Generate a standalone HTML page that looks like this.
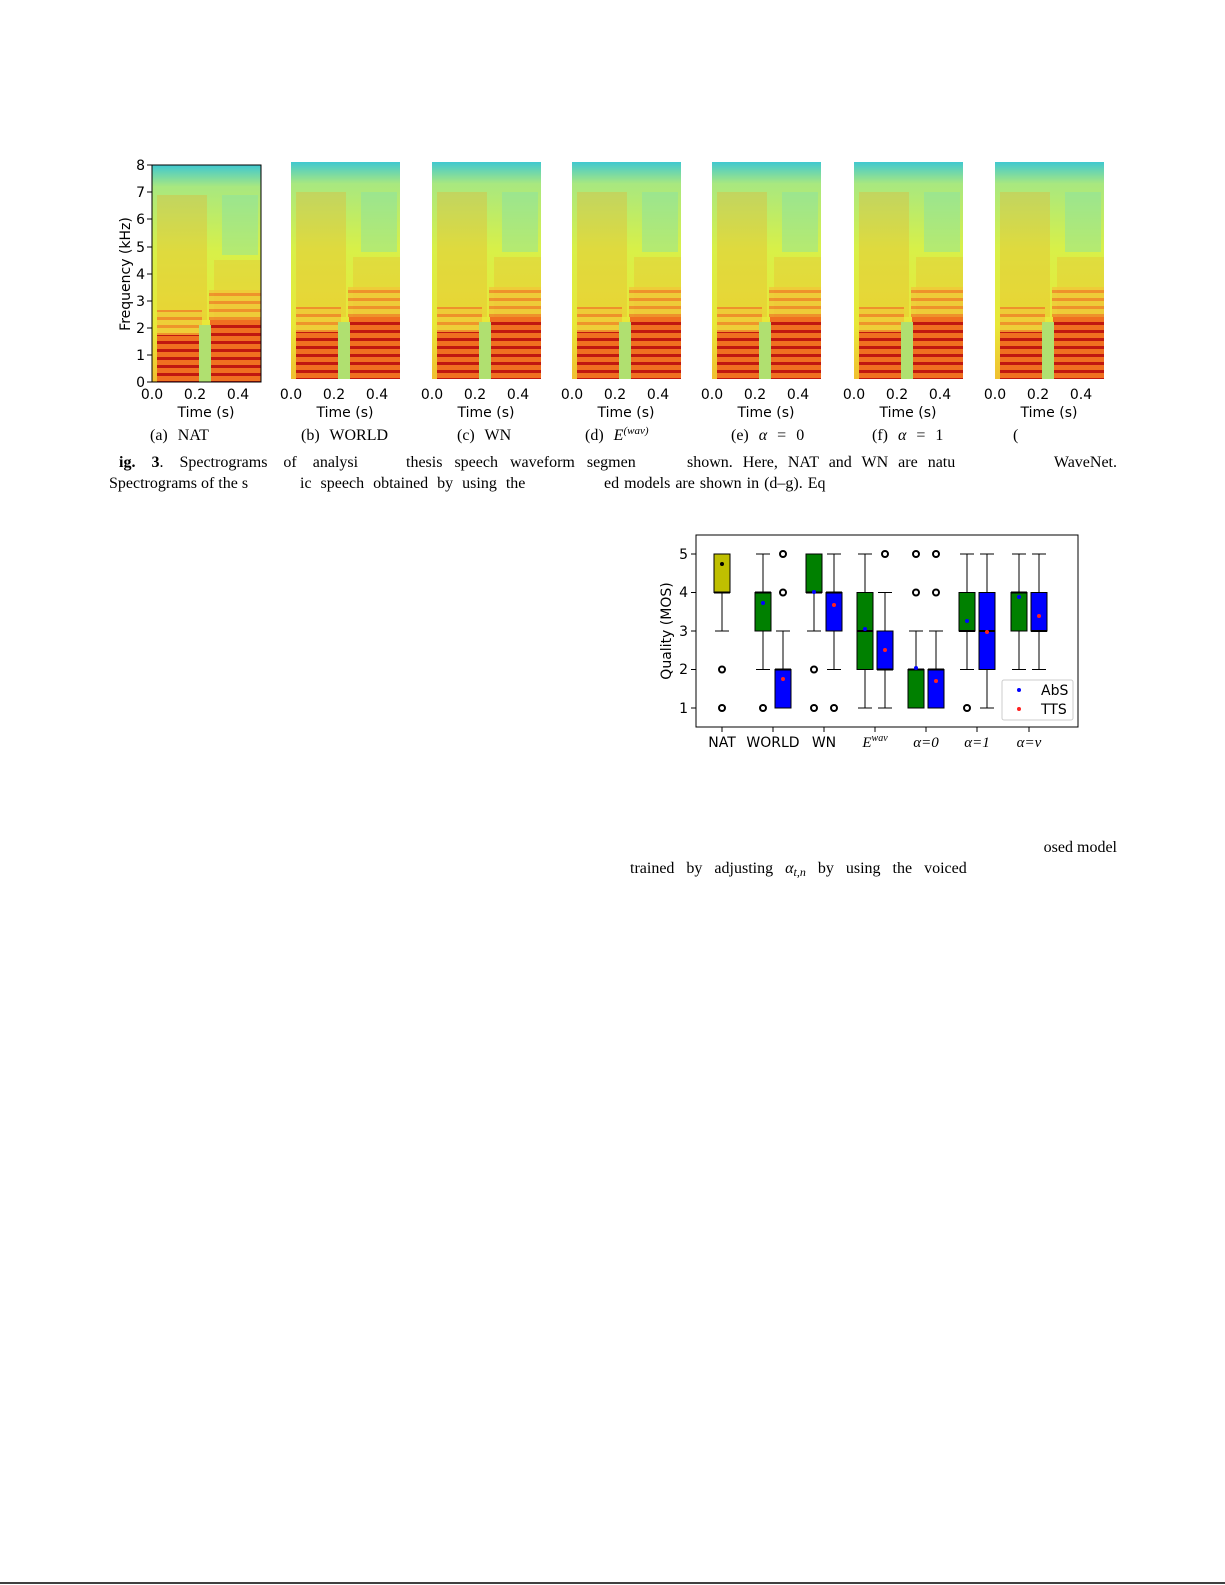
<!DOCTYPE html>
<html><head><meta charset="utf-8"><style>
html,body{margin:0;padding:0;background:#fff;}
svg{display:block;}
.t{font-family:"DejaVu Sans",sans-serif;font-size:14px;fill:#000;}
.s{font-family:"Liberation Serif",serif;font-size:16px;fill:#000;}
.m{font-family:"Liberation Serif",serif;font-style:italic;font-size:15px;fill:#000;}
</style></head><body>
<svg width="1225" height="1585" viewBox="0 0 1225 1585" xmlns="http://www.w3.org/2000/svg">
<defs>
<linearGradient id="bg" x1="0" y1="0" x2="0" y2="1">
<stop offset="0" stop-color="#40c8d0"/><stop offset="0.1" stop-color="#a8e880"/>
<stop offset="0.4" stop-color="#d8f048"/><stop offset="0.75" stop-color="#e8e838"/><stop offset="1" stop-color="#f0c030"/>
</linearGradient>
<pattern id="harm" width="8" height="8" patternUnits="userSpaceOnUse">
<rect width="8" height="8" fill="#f07020"/><rect y="0" width="8" height="3" fill="#c01810"/>
</pattern>
<pattern id="harm2" width="8" height="8" patternUnits="userSpaceOnUse">
<rect width="8" height="8" fill="#f0c838"/><rect y="0" width="8" height="3" fill="#f08028"/>
</pattern>
<g id="spec">
<rect width="109" height="217" fill="url(#bg)"/>
<rect x="5" y="30" width="50" height="125" fill="#f0a828" opacity="0.3"/>
<rect x="62" y="95" width="47" height="60" fill="#f0a828" opacity="0.25"/>
<rect x="70" y="30" width="36" height="60" fill="#80e0b0" opacity="0.4"/>
<rect x="5" y="145" width="45" height="25" fill="url(#harm2)" opacity="0.8"/>
<rect x="57" y="125" width="52" height="30" fill="url(#harm2)" opacity="0.8"/>
<rect x="5" y="170" width="43" height="47" fill="url(#harm)"/>
<rect x="58" y="155" width="51" height="62" fill="url(#harm)"/>
<rect x="47" y="160" width="12" height="57" fill="#b0e070"/>
</g>
</defs>
<use href="#spec" x="152" y="165"/>
<use href="#spec" x="291" y="162"/>
<use href="#spec" x="432" y="162"/>
<use href="#spec" x="572" y="162"/>
<use href="#spec" x="712" y="162"/>
<use href="#spec" x="854" y="162"/>
<use href="#spec" x="995" y="162"/>
<rect x="152" y="165" width="109" height="217" fill="none" stroke="#000" stroke-width="1"/>
<g stroke="#000">
<line x1="147" y1="382" x2="152" y2="382"/><line x1="147" y1="355" x2="152" y2="355"/><line x1="147" y1="328" x2="152" y2="328"/><line x1="147" y1="301" x2="152" y2="301"/><line x1="147" y1="274" x2="152" y2="274"/><line x1="147" y1="247" x2="152" y2="247"/><line x1="147" y1="219" x2="152" y2="219"/><line x1="147" y1="192" x2="152" y2="192"/><line x1="147" y1="165" x2="152" y2="165"/>
</g>
<g class="t" text-anchor="end">
<text x="145" y="387">0</text><text x="145" y="360">1</text><text x="145" y="333">2</text><text x="145" y="306">3</text><text x="145" y="279">4</text><text x="145" y="252">5</text><text x="145" y="224">6</text><text x="145" y="197">7</text><text x="145" y="170">8</text>
</g>
<text class="t" transform="translate(130,274) rotate(-90)" text-anchor="middle">Frequency (kHz)</text>
<g class="t" text-anchor="middle">
<text x="152" y="399">0.0</text><text x="195" y="399">0.2</text><text x="238" y="399">0.4</text><text x="206" y="417">Time (s)</text>
<text x="291" y="399">0.0</text><text x="334" y="399">0.2</text><text x="377" y="399">0.4</text><text x="345" y="417">Time (s)</text>
<text x="432" y="399">0.0</text><text x="475" y="399">0.2</text><text x="518" y="399">0.4</text><text x="486" y="417">Time (s)</text>
<text x="572" y="399">0.0</text><text x="615" y="399">0.2</text><text x="658" y="399">0.4</text><text x="626" y="417">Time (s)</text>
<text x="712" y="399">0.0</text><text x="755" y="399">0.2</text><text x="798" y="399">0.4</text><text x="766" y="417">Time (s)</text>
<text x="854" y="399">0.0</text><text x="897" y="399">0.2</text><text x="940" y="399">0.4</text><text x="908" y="417">Time (s)</text>
<text x="995" y="399">0.0</text><text x="1038" y="399">0.2</text><text x="1081" y="399">0.4</text><text x="1049" y="417">Time (s)</text>
</g>
<g class="s" font-size="15.5" word-spacing="6">
<text x="150" y="440">(a) NAT</text>
<text x="301" y="440">(b) WORLD</text>
<text x="457" y="440">(c) WN</text>
<text x="585" y="440">(d) <tspan font-style="italic">E</tspan><tspan font-style="italic" font-size="11" dy="-6">(wav)</tspan></text>
<text x="731" y="440">(e) <tspan font-style="italic">α</tspan> = 0</text>
<text x="872" y="440">(f) <tspan font-style="italic">α</tspan> = 1</text>
<text x="1013" y="440">(</text>
</g>
<g class="s" font-size="17">
<text x="119" y="467" word-spacing="12"><tspan font-weight="bold">ig. 3</tspan>. Spectrograms of analysi</text>
<text x="406" y="467" word-spacing="8">thesis speech waveform segmen</text>
<text x="687" y="467" word-spacing="6">shown. Here, NAT and WN are natu</text>
<text x="1117" y="467" text-anchor="end">WaveNet.</text>
<text x="109" y="488">Spectrograms of the s</text>
<text x="300" y="488" word-spacing="5">ic speech obtained by using the</text>
<text x="604" y="488" word-spacing="1">ed models are shown in (d–g). Eq</text>
<text x="1117" y="852" text-anchor="end">osed model</text>
<text x="630" y="873" word-spacing="8">trained by adjusting <tspan font-style="italic">α</tspan><tspan font-style="italic" font-size="12" dy="3">t,n</tspan><tspan dy="-3"> by using the voiced</tspan></text>
</g>
<!-- boxplot -->
<rect x="696" y="535" width="382" height="192" fill="#fff" stroke="#000"/>
<g stroke="#000"><line x1="691" y1="554" x2="696" y2="554"/><line x1="691" y1="592.5" x2="696" y2="592.5"/><line x1="691" y1="631" x2="696" y2="631"/><line x1="691" y1="669.5" x2="696" y2="669.5"/><line x1="691" y1="708" x2="696" y2="708"/>
<line x1="722" y1="727" x2="722" y2="732"/><line x1="773" y1="727" x2="773" y2="732"/><line x1="824" y1="727" x2="824" y2="732"/><line x1="875" y1="727" x2="875" y2="732"/><line x1="926" y1="727" x2="926" y2="732"/><line x1="977" y1="727" x2="977" y2="732"/><line x1="1029" y1="727" x2="1029" y2="732"/></g>
<g class="t" text-anchor="end"><text x="688" y="559">5</text><text x="688" y="597">4</text><text x="688" y="636">3</text><text x="688" y="674">2</text><text x="688" y="713">1</text></g>
<text class="t" transform="translate(671,631) rotate(-90)" text-anchor="middle">Quality (MOS)</text>
<g class="t" text-anchor="middle"><text x="722" y="747">NAT</text><text x="773" y="747">WORLD</text><text x="824" y="747">WN</text></g>
<g class="m" text-anchor="middle"><text x="875" y="747">E<tspan font-size="10" dy="-6">wav</tspan></text><text x="926" y="747">α=0</text><text x="977" y="747">α=1</text><text x="1029" y="747">α=v</text></g>
<g stroke="#000" stroke-width="1" fill="none">
<path d="M722 592.5V631M715 631h14 M763 631V669.5M756 669.5h14M763 592.5V554M756 554h14 M783 669.5V631M776 631h14 M814 592.5V631M807 631h14 M834 631V669.5M827 669.5h14M834 592.5V554M827 554h14 M865 669.5V708M858 708h14M865 592.5V554M858 554h14 M885 669.5V708M878 708h14M885 631V592.5M878 592.5h14 M916 669.5V631M909 631h14 M936 669.5V631M929 631h14 M967 631V669.5M960 669.5h14M967 592.5V554M960 554h14 M987 669.5V708M980 708h14M987 592.5V554M980 554h14 M1019 631V669.5M1012 669.5h14M1019 592.5V554M1012 554h14 M1039 631V669.5M1032 669.5h14M1039 592.5V554M1032 554h14"/>
</g>
<g stroke="#000" stroke-width="1">
<rect x="714" y="554" width="16" height="38.5" fill="#bfbf00"/>
<rect x="755" y="592.5" width="16" height="38.5" fill="#008000"/>
<rect x="775" y="669.5" width="16" height="38.5" fill="#0000ff"/>
<rect x="806" y="554" width="16" height="38.5" fill="#008000"/>
<rect x="826" y="592.5" width="16" height="38.5" fill="#0000ff"/>
<rect x="857" y="592.5" width="16" height="77" fill="#008000"/>
<rect x="877" y="631" width="16" height="38.5" fill="#0000ff"/>
<rect x="908" y="669.5" width="16" height="38.5" fill="#008000"/>
<rect x="928" y="669.5" width="16" height="38.5" fill="#0000ff"/>
<rect x="959" y="592.5" width="16" height="38.5" fill="#008000"/>
<rect x="979" y="592.5" width="16" height="77" fill="#0000ff"/>
<rect x="1011" y="592.5" width="16" height="38.5" fill="#008000"/>
<rect x="1031" y="592.5" width="16" height="38.5" fill="#0000ff"/>
</g>
<g stroke="#000" stroke-width="2">
<path d="M714 592.5h16M755 592.5h16M775 669.5h16M806 592.5h16M826 592.5h16M857 631h16M877 669.5h16M908 669.5h16M928 669.5h16M959 631h16M979 631h16M1011 592.5h16M1031 631h16"/>
</g>
<g fill="none" stroke="#000" stroke-width="2">
<circle cx="722" cy="669.5" r="3"/><circle cx="722" cy="708" r="3"/><circle cx="763" cy="708" r="3"/><circle cx="783" cy="592.5" r="3"/><circle cx="783" cy="554" r="3"/>
<circle cx="814" cy="669.5" r="3"/><circle cx="814" cy="708" r="3"/><circle cx="834" cy="708" r="3"/><circle cx="885" cy="554" r="3"/>
<circle cx="916" cy="554" r="3"/><circle cx="916" cy="592.5" r="3"/><circle cx="936" cy="554" r="3"/><circle cx="936" cy="592.5" r="3"/><circle cx="967" cy="708" r="3"/>
</g>
<circle cx="722" cy="564" r="2" fill="#000"/>
<g fill="#0000ff"><circle cx="763" cy="603" r="2"/><circle cx="814" cy="592" r="2"/><circle cx="865" cy="629" r="2"/><circle cx="916" cy="668" r="2"/><circle cx="967" cy="621" r="2"/><circle cx="1019" cy="597" r="2"/></g>
<g fill="#ff2020"><circle cx="783" cy="679" r="2"/><circle cx="834" cy="605" r="2"/><circle cx="885" cy="650" r="2"/><circle cx="936" cy="681" r="2"/><circle cx="987" cy="632" r="2"/><circle cx="1039" cy="616" r="2"/></g>
<rect x="1002" y="680" width="71" height="40" rx="2" fill="#fff" stroke="#ccc"/>
<circle cx="1019" cy="690" r="2" fill="#0000ff"/><circle cx="1019" cy="709" r="2" fill="#ff2020"/>
<text class="t" x="1041" y="695" font-size="13">AbS</text><text class="t" x="1041" y="714" font-size="13">TTS</text>
<line x1="0" y1="1583" x2="1225" y2="1583" stroke="#000" stroke-width="1.5"/>
</svg>
</body></html>
